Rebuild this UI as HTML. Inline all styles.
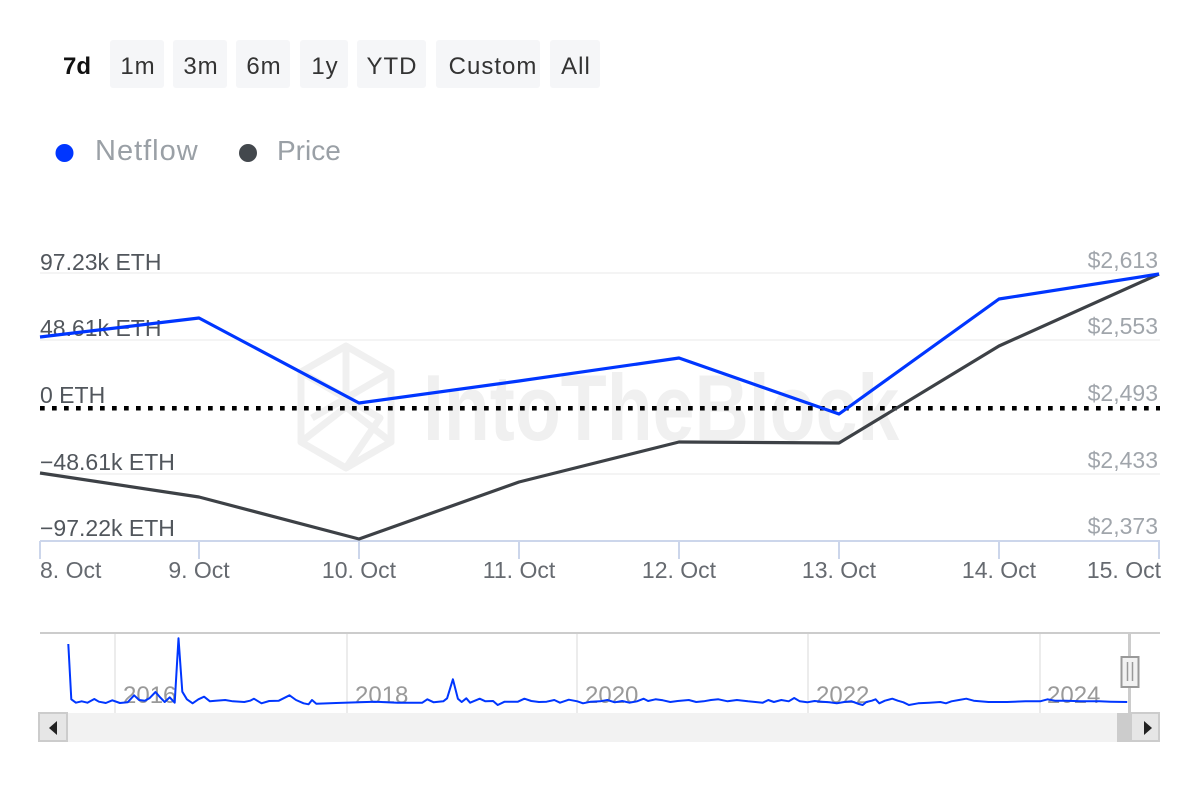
<!DOCTYPE html>
<html><head><meta charset="utf-8"><style>
html,body{margin:0;padding:0;background:#fff;}
svg{display:block;}
text{font-family:"Liberation Sans",sans-serif;}
</style></head><body>
<svg width="1200" height="800" viewBox="0 0 1200 800" xmlns="http://www.w3.org/2000/svg">
<rect width="1200" height="800" fill="#fff"/>
<!-- range buttons -->
<text x="63" y="74" font-size="24" font-weight="bold" fill="#111">7d</text>
<g fill="#f5f6f8">
<rect x="110" y="40" width="54" height="48" rx="3"/>
<rect x="173" y="40" width="54" height="48" rx="3"/>
<rect x="236" y="40" width="54" height="48" rx="3"/>
<rect x="300" y="40" width="48" height="48" rx="3"/>
<rect x="357" y="40" width="69" height="48" rx="3"/>
<rect x="436" y="40" width="104" height="48" rx="3"/>
<rect x="550" y="40" width="50" height="48" rx="3"/>
</g>
<g font-size="24" fill="#333" text-anchor="middle" letter-spacing="1">
<text x="138" y="74">1m</text>
<text x="201" y="74">3m</text>
<text x="264" y="74">6m</text>
<text x="325" y="74">1y</text>
<text x="392" y="74">YTD</text>
<text x="493" y="74">Custom</text>
<text x="576" y="74">All</text>
</g>
<!-- legend -->
<circle cx="64.5" cy="153" r="9" fill="#0036ff"/>
<text x="95" y="160" font-size="29" fill="#9aa0a6" letter-spacing="1">Netflow</text>
<circle cx="248" cy="153" r="9" fill="#43484d"/>
<text x="277" y="160" font-size="28" fill="#9aa0a6">Price</text>

<!-- watermark -->
<g fill="none" stroke="#f0f0f0" stroke-width="7" stroke-linejoin="round">
<polygon points="346,346 391,372 391,442 346,468 301,442 301,372"/>
<polyline points="346,346 346,407 301,442"/>
<polyline points="346,407 391,442"/>
<polyline points="301,372 380,418 346,468"/>
<polyline points="391,372 312,418"/>
</g>
<text x="423" y="440" font-size="94" font-weight="bold" fill="#f0f0f0" transform="translate(423 0) scale(0.8 1) translate(-423 0)">IntoTheBlock</text>

<!-- grid -->
<g stroke="#f0f0f0" stroke-width="1.5">
<line x1="40" y1="273" x2="1160" y2="273"/>
<line x1="40" y1="340" x2="1160" y2="340"/>
<line x1="40" y1="474" x2="1160" y2="474"/>
</g>
<!-- axis -->
<g stroke="#ccd6eb" stroke-width="2">
<line x1="40" y1="541" x2="1160" y2="541"/>
<line x1="40" y1="541" x2="40" y2="559"/>
<line x1="199" y1="541" x2="199" y2="559"/>
<line x1="359" y1="541" x2="359" y2="559"/>
<line x1="519" y1="541" x2="519" y2="559"/>
<line x1="679" y1="541" x2="679" y2="559"/>
<line x1="839" y1="541" x2="839" y2="559"/>
<line x1="999" y1="541" x2="999" y2="559"/>
<line x1="1159" y1="541" x2="1159" y2="559"/>
</g>
<!-- y labels left -->
<g font-size="23" fill="#51565c">
<text x="40" y="270">97.23k ETH</text>
<text x="40" y="336">48.61k ETH</text>
<text x="40" y="403">0 ETH</text>
<text x="40" y="470">−48.61k ETH</text>
<text x="40" y="536">−97.22k ETH</text>
</g>
<!-- y labels right -->
<g font-size="23" fill="#a0a5ab" text-anchor="end">
<text x="1158" y="268">$2,613</text>
<text x="1158" y="334">$2,553</text>
<text x="1158" y="401">$2,493</text>
<text x="1158" y="468">$2,433</text>
<text x="1158" y="534">$2,373</text>
</g>
<!-- x labels -->
<g font-size="23" fill="#666a70" text-anchor="middle">
<text x="40" y="578" text-anchor="start">8. Oct</text>
<text x="199" y="578">9. Oct</text>
<text x="359" y="578">10. Oct</text>
<text x="519" y="578">11. Oct</text>
<text x="679" y="578">12. Oct</text>
<text x="839" y="578">13. Oct</text>
<text x="999" y="578">14. Oct</text>
<text x="1161" y="578" text-anchor="end">15. Oct</text>
</g>
<!-- zero dotted line -->
<line x1="40" y1="408.3" x2="1160" y2="408.3" stroke="#000" stroke-width="4.5" stroke-dasharray="4.7 7.3"/>
<!-- series -->
<polyline fill="none" stroke="#3d4146" stroke-width="3.2" stroke-linejoin="round" points="40,473 199,497 359,539 519,482 679,442 839,443 999,346 1159,274"/>
<polyline fill="none" stroke="#0036ff" stroke-width="3.2" stroke-linejoin="round" points="40,337 199,318 359,403 519,381 679,358 839,414 999,299 1159,274"/>

<!-- navigator -->
<g stroke="#e6e6e6" stroke-width="1.5">
<line x1="115" y1="633" x2="115" y2="713"/>
<line x1="347" y1="633" x2="347" y2="713"/>
<line x1="577" y1="633" x2="577" y2="713"/>
<line x1="808" y1="633" x2="808" y2="713"/>
<line x1="1040" y1="633" x2="1040" y2="713"/>
</g>
<line x1="40" y1="633" x2="1160" y2="633" stroke="#cccccc" stroke-width="2"/>
<g font-family="Liberation Serif, serif" font-size="24" fill="#999">
<text x="123" y="703" font-family="Liberation Serif, serif">2016</text>
<text x="355" y="703" font-family="Liberation Serif, serif">2018</text>
<text x="585" y="703" font-family="Liberation Serif, serif">2020</text>
<text x="816" y="703" font-family="Liberation Serif, serif">2022</text>
<text x="1047" y="703" font-family="Liberation Serif, serif">2024</text>
</g>
<polyline fill="none" stroke="#0036ff" stroke-width="2" stroke-linejoin="round" points="68.3,644 71.3,699.3 75.9,702.7 81.7,701.3 87.4,702.7 94.3,699 98.9,701.7 105.8,703 112.3,700.3 119.9,703 127.6,702.3 134.1,695.3 139.1,700 144.8,700.7 149.4,698.3 155.5,692 160.1,697.3 164.7,702 169.7,697.3 174.7,702.7 178.5,638.3 182.3,691.7 186.9,699.3 192.6,703.3 198.4,699.3 204.1,696.7 209.9,701.3 215.6,700.7 225.2,700 232.8,701.3 244.3,702 250.1,700.7 253.9,698.7 261.5,703.3 269.2,701 278.8,700.7 289.5,695.3 296,700 303.6,703.3 308.6,704.3 312,700 316.3,703.7 336.2,703 374.4,701.7 397.4,702.7 422.3,702.7 427.3,699.3 433.7,702.3 443.3,701.3 447.1,698.3 452.9,679.3 457.9,698.7 461.7,702 466.3,698.3 470.1,702.7 479.7,698.7 485.4,701.3 493.1,701 497.7,705 504.6,701.7 517.9,701.7 524.4,698.7 531.3,701 539,702 546.6,701.7 554.3,700 560,702.7 568.8,699.7 577.3,701.3 583,703.3 590.7,701.7 600.2,701.3 607.4,700 614.8,702.3 622.2,701 629.6,702.7 637,701.3 643.7,698.7 648.1,701 655.5,699.3 662.9,700.3 670.3,702 677.7,701 688.8,700 696.2,702 703.6,701.3 711,700 718.4,699.3 727.6,701.3 736.9,700 748,701.3 755.4,702 762.8,702.7 768.3,700 773.9,702 781.3,700 788.7,701.3 794.2,698 799.8,701.3 807.2,702.3 814.6,701 822,701.7 829.4,702.3 836.8,703.3 844.2,702 851.6,701.3 859,704 862.7,705 866.4,702 871.9,700.7 875.6,699.3 879.3,703.3 884.9,700.7 892.3,698.7 897.8,700.7 903.4,702.3 908.9,705 918.2,703.3 929.3,702.7 940.4,702 945.9,703.3 951.5,701.3 958.9,700 966.3,698.7 973.7,700.7 988.5,702 1007,702 1025.5,701.3 1040.2,701.3 1047.6,699.3 1055,700.7 1066.1,700.7 1080.9,701.3 1099.4,701.3 1110.5,701.7 1127.2,702"/>
<!-- scrollbar -->
<rect x="40" y="713" width="1120" height="29" fill="#f2f2f2"/>
<rect x="1117" y="713" width="14" height="29" fill="#cccccc"/>
<rect x="39" y="713" width="28" height="28" fill="#e6e6e6" stroke="#cccccc" stroke-width="2"/>
<polygon points="57,721 57,735 49,728" fill="#222"/>
<rect x="1131" y="713" width="28" height="28" fill="#e6e6e6" stroke="#cccccc" stroke-width="2"/>
<polygon points="1144,721 1144,735 1152,728" fill="#222"/>
<!-- handle -->
<line x1="1129.5" y1="633" x2="1129.5" y2="713" stroke="#cccccc" stroke-width="3"/>
<rect x="1121.5" y="657" width="17" height="30" fill="#f2f2f2" stroke="#999" stroke-width="2"/>
<line x1="1127.5" y1="662" x2="1127.5" y2="681" stroke="#999" stroke-width="1.5"/>
<line x1="1132.5" y1="662" x2="1132.5" y2="681" stroke="#999" stroke-width="1.5"/>
</svg>
</body></html>
